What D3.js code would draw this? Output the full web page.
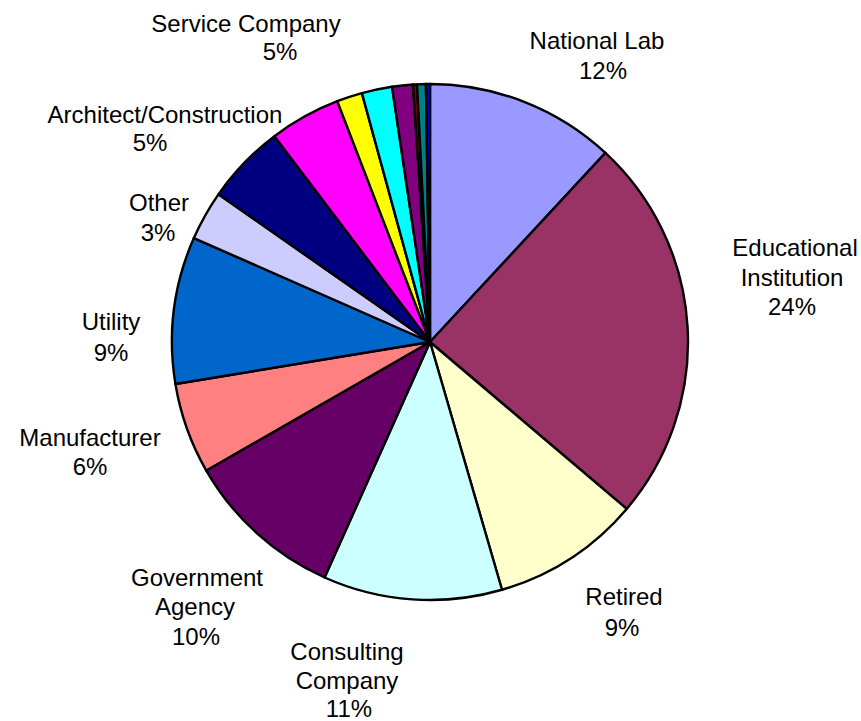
<!DOCTYPE html>
<html>
<head>
<meta charset="utf-8">
<script src="https://cdn.jsdelivr.net/npm/d3@7"></script>
<style>
  body { margin: 0; background: #fff; }
  text { font-family: "Liberation Sans", Arial, sans-serif; }
</style>
</head>
<body>
<div id="piechart"></div>
<script>
// slice names (the small ones carry no label in the chart)
var categories = ["National Lab", "Educational Institution", "Retired", "Consulting Company",
  "Government Agency", "Manufacturer", "Utility", "Other", "Architect/Construction",
  "Service Company", "s11", "s12", "s13", "s14", "s15", "s16"]
// share of respondents, percent
var values = [11.9, 24.3, 9.3, 11.2, 10.0, 5.7, 9.2, 3.1, 5.0, 4.45, 1.6, 1.9, 1.3, 0.25, 0.55, 0.25]
// text shown on each label (lines); empty = not labelled
var labelLines = [
  ["National Lab", "12%"],
  ["Educational", "Institution", "24%"],
  ["Retired", "9%"],
  ["Consulting", "Company", "11%"],
  ["Government", "Agency", "10%"],
  ["Manufacturer", "6%"],
  ["Utility", "9%"],
  ["Other", "3%"],
  ["Architect/Construction", "5%"],
  ["Service Company", "5%"],
  [], [], [], [], [], []
]
var colors = ["#9999FF", "#993366", "#FFFFCC", "#CCFFFF", "#660066", "#FF8080", "#0066CC",
  "#CCCCFF", "#000080", "#FF00FF", "#FFFF00", "#00FFFF", "#800080", "#800000", "#008080", "#0000FF"]

drawpie()
function drawpie() {
  var width = 861, height = 721
  var svg = d3.select("#piechart").append("svg")
    .attr("width", width)
    .attr("height", height)

  var data = categories.map(function(c, i) {
    return { name: c, value: values[i], lines: labelLines[i] }
  })

  var pie = d3.pie().sort(null).value(d => d.value)
  var radius = 258
  var arc = d3.arc().innerRadius(0).outerRadius(radius)

  var color = d3.scaleOrdinal().domain(categories).range(colors)

  var g = svg.append("g").attr("transform", "translate(430,342)")

  g.selectAll("path")
    .data(pie(data))
    .enter().append("path")
    .attr("d", arc)
    .attr("fill", d => color(d.data.name))
    .attr("stroke", "#000")
    .attr("stroke-width", 2.4)
    .attr("stroke-linejoin", "round")

  // label placement per slice: [x, baseline] for each line
  var labelPos = [
    [[597, 49], [603, 79]],
    [[795, 256], [792, 286], [792, 315]],
    [[624, 605], [622, 636]],
    [[347, 660], [347, 689], [349, 717]],
    [[197, 586], [195, 615], [196, 645]],
    [[90, 446], [90, 475]],
    [[111, 330], [111, 361]],
    [[159, 211], [158, 241]],
    [[165, 123], [150, 151]],
    [[246, 32], [280, 60]]
  ]

  data.forEach(function(d, i) {
    d.lines.forEach(function(t, j) {
      svg.append("text")
        .attr("x", labelPos[i][j][0])
        .attr("y", labelPos[i][j][1])
        .attr("text-anchor", "middle")
        .style("font-size", "24px")
        .style("fill", "#000")
        .text(t)
    })
  })
}
</script>
</body>
</html>
